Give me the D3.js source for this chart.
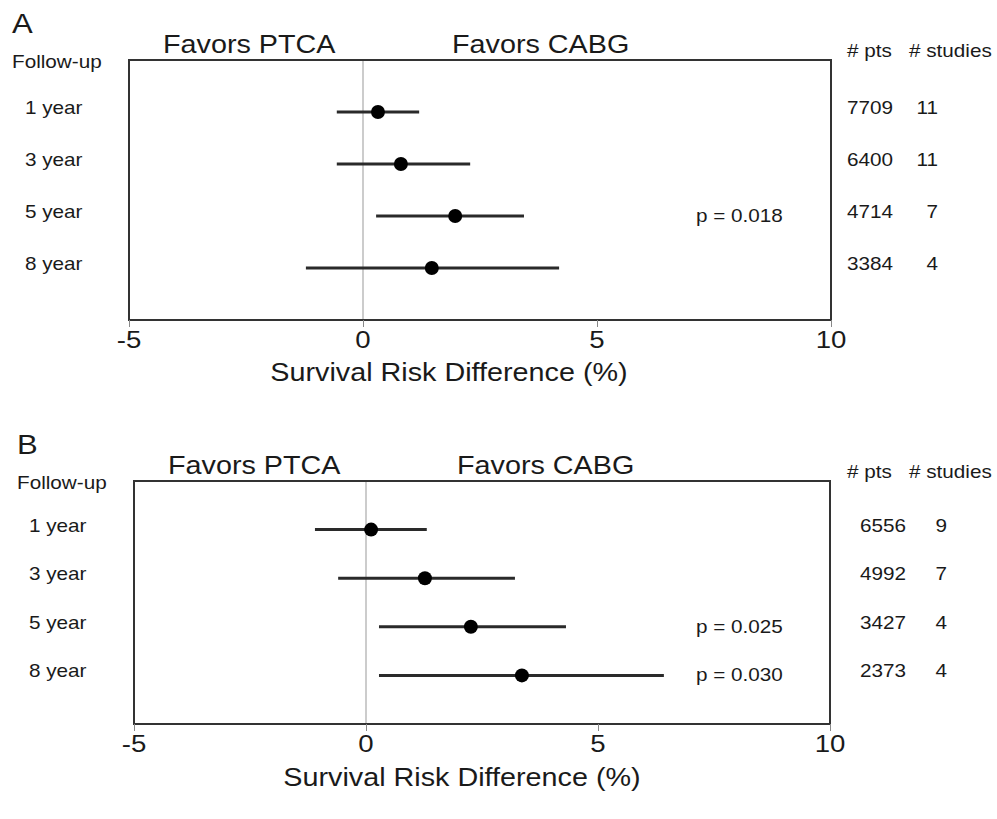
<!DOCTYPE html>
<html>
<head>
<meta charset="utf-8">
<script src="https://cdn.jsdelivr.net/npm/d3@7"></script>
<style>
  body { margin: 0; background: #fff; }
  svg { display: block; font-family: "Liberation Sans", Arial, sans-serif; }
</style>
</head>
<body>
<svg id="chart" width="997" height="819"></svg>
<script>
const periods = ["1 year", "3 year", "5 year", "8 year"];
const xTicks = [-5, 0, 5, 10];

// panel A
const estA = [0.32, 0.81, 1.97, 1.47];
const lowA = [-0.56, -0.56, 0.28, -1.22];
const highA = [1.20, 2.29, 3.44, 4.19];
const ptsA = [7709, 6400, 4714, 3384];
const studiesA = [11, 11, 7, 4];
const pA = [null, null, "p = 0.018", null];

// panel B
const estB = [0.11, 1.27, 2.26, 3.36];
const lowB = [-1.10, -0.60, 0.28, 0.28];
const highB = [1.31, 3.21, 4.31, 6.42];
const ptsB = [6556, 4992, 3427, 2373];
const studiesB = [9, 7, 4, 4];
const pB = [null, null, "p = 0.025", "p = 0.030"];

const svg = d3.select("#chart");
const STRETCH = 1.15;
const INK = "#1a1a1a";

// text in the scan is a little wider than it is tall
function label(g, x, y, txt, size, anchor) {
  return g.append("text")
    .attr("transform", `translate(${x},${y}) scale(${STRETCH},1)`)
    .attr("text-anchor", anchor || "start")
    .attr("font-size", size)
    .attr("fill", INK)
    .text(txt);
}

const panels = [
  {
    letter: "A", est: estA, low: lowA, high: highA, pts: ptsA, studies: studiesA, p: pA,
    left: 129, right: 831, top: 60, bottom: 320,
    letterX: 12, followX: 12, rowX: 25, ptcaX: 163, ptsRight: 893, studiesRight: 938,
    tickY: 348, titleX: 449, titleY: 381
  },
  {
    letter: "B", est: estB, low: lowB, high: highB, pts: ptsB, studies: studiesB, p: pB,
    left: 134, right: 830, top: 481, bottom: 724,
    letterX: 17, followX: 17, rowX: 29, ptcaX: 168, ptsRight: 906, studiesRight: 947,
    tickY: 752, titleX: 462, titleY: 786
  }
];

panels.forEach(drawPanel);

function drawPanel(P) {
  const g = svg.append("g");
  const x = d3.scaleLinear().domain([-5, 10]).range([P.left, P.right]);
  const y = d3.scaleLinear().domain([0, periods.length + 1]).range([P.top, P.bottom]);
  const rows = periods.map((d, i) => i);

  // zero reference line
  g.append("line")
    .attr("x1", x(0)).attr("x2", x(0))
    .attr("y1", P.top).attr("y2", P.bottom)
    .attr("stroke", "#999").attr("stroke-width", 1);

  // frame
  g.append("rect")
    .attr("x", P.left).attr("y", P.top)
    .attr("width", P.right - P.left).attr("height", P.bottom - P.top)
    .attr("fill", "none").attr("stroke", "#333").attr("stroke-width", 2);

  // x axis ticks
  const axis = g.append("g")
    .attr("transform", `translate(0,${P.bottom})`)
    .call(d3.axisBottom(x).tickValues(xTicks).tickSize(7).tickFormat(""));
  axis.select(".domain").remove();
  axis.selectAll(".tick line").attr("stroke", "#888").attr("stroke-width", 1);

  xTicks.forEach(t => label(g, x(t), P.tickY, t, 24, "middle"));
  label(g, P.titleX, P.titleY, "Survival Risk Difference (%)", 25, "middle");

  // CI bars and point estimates
  g.selectAll(".ci")
    .data(rows)
    .enter()
    .append("line")
    .attr("class", "ci")
    .attr("x1", i => x(P.low[i]))
    .attr("x2", i => x(P.high[i]))
    .attr("y1", i => y(i + 1))
    .attr("y2", i => y(i + 1))
    .attr("stroke", "#2a2a2a")
    .attr("stroke-width", 3);

  g.selectAll(".pt")
    .data(rows)
    .enter()
    .append("circle")
    .attr("class", "pt")
    .attr("cx", i => x(P.est[i]))
    .attr("cy", i => y(i + 1))
    .attr("r", 7)
    .attr("fill", "#000");

  // labels
  label(g, P.letterX, P.top - 27, P.letter, 27, "start");
  label(g, P.ptcaX, P.top - 7, "Favors PTCA", 25, "start");
  label(g, P.ptcaX + 289, P.top - 7, "Favors CABG", 25, "start");
  label(g, P.followX, P.top + 8, "Follow-up", 18, "start");
  label(g, 847, P.top - 3, "# pts", 18, "start");
  label(g, 909, P.top - 3, "# studies", 18, "start");

  rows.forEach(i => {
    const yy = y(i + 1) + 2;
    label(g, P.rowX, yy, periods[i], 18, "start");
    label(g, P.ptsRight, yy, P.pts[i], 18, "end");
    label(g, P.studiesRight, yy, P.studies[i], 18, "end");
    if (P.p[i]) label(g, 696, yy + 4, P.p[i], 18, "start");
  });
}
</script>
</body>
</html>
